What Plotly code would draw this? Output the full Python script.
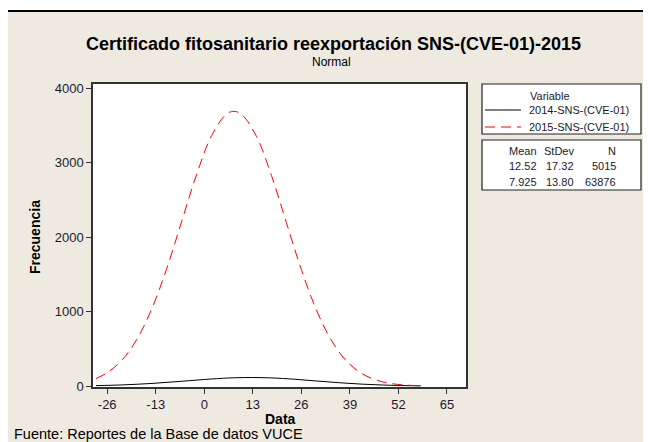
import plotly.graph_objects as go

# ---- data ----
x_2015 = [-29, -26, -22, -18, -14, -10, -6, -2, 2, 6, 8, 10, 14, 18, 22, 26, 30, 34, 38, 42, 46, 50, 54, 58]
y_2015 = [103, 180, 352, 632, 1045, 1588, 2220, 2851, 3368, 3657, 3690, 3651, 3352, 2829, 2195, 1566, 1027, 619, 343, 175, 82, 35, 14, 5]

x_2014 = [-29, -22, -14, -6, 2, 8, 13, 18, 24, 30, 36, 42, 48, 54, 58]
y_2014 = [6.5, 16, 36, 65, 96, 112, 115.5, 110, 93, 69, 46, 27, 14, 6.6, 3.5]

x_ticks = [-26, -13, 0, 13, 26, 39, 52, 65]
y_ticks = [0, 1000, 2000, 3000, 4000]

series_names = ["2014-SNS-(CVE-01)", "2015-SNS-(CVE-01)"]
stat_mean = ["12.52", "7.925"]
stat_sd = ["17.32", "13.80"]
stat_n = ["5015", "63876"]

title = "Certificado fitosanitario reexportación SNS-(CVE-01)-2015"
subtitle = "Normal"
caption = "Fuente: Reportes de la Base de datos VUCE"

# ---- layout geometry (page pixels; the page body adds an 8px offset) ----
OFF = 8
W, H = 651 - OFF, 442 - OFF
L, R, T, B = 93 - OFF, 466 - OFF, 84 - OFF, 387 - OFF


def px(p):
    return (p - OFF - L) / (R - L)


def py(p):
    return (B - (p - OFF)) / (B - T)


FONT = "Liberation Sans"
TXT = "#1a1a2e"

fig = go.Figure()
fig.add_trace(go.Scatter(x=x_2014, y=y_2014, mode="lines", name=series_names[0],
                         line=dict(color="black", width=1, shape="spline"), showlegend=False))
fig.add_trace(go.Scatter(x=x_2015, y=y_2015, mode="lines", name=series_names[1],
                         line=dict(color="#ff0000", width=1, dash="10px,6px", shape="spline"),
                         showlegend=False))

shapes = [
    dict(type="rect", xref="paper", yref="paper", x0=px(7), x1=px(720), y0=py(520), y1=py(11),
         fillcolor="#efeae0", line=dict(color="black", width=2), layer="below"),
    dict(type="rect", xref="paper", yref="paper", x0=0, x1=1, y0=0, y1=1,
         fillcolor="white", line=dict(width=0), layer="below"),
    # legend boxes
    dict(type="rect", xref="paper", yref="paper", x0=px(482), x1=px(641), y0=py(134), y1=py(84),
         fillcolor="white", line=dict(color="#222", width=1.2)),
    dict(type="rect", xref="paper", yref="paper", x0=px(482), x1=px(641), y0=py(190), y1=py(140),
         fillcolor="white", line=dict(color="#222", width=1.2)),
    dict(type="line", xref="paper", yref="paper", x0=px(485), x1=px(521), y0=py(110), y1=py(110),
         line=dict(color="black", width=1)),
    dict(type="line", xref="paper", yref="paper", x0=px(485), x1=px(521), y0=py(127), y1=py(127),
         line=dict(color="#ff0000", width=1, dash="10px,6px")),
]

ann = []
ann.append(dict(text="<b>" + title + "</b>", x=px(333), y=py(44), xref="paper", yref="paper",
                showarrow=False, font=dict(family=FONT, size=18, color="black"),
                xanchor="center", yanchor="middle"))
ann.append(dict(text=subtitle, x=px(331), y=py(62), xref="paper", yref="paper",
                showarrow=False, font=dict(family=FONT, size=12, color="black"),
                xanchor="center", yanchor="middle"))
ann.append(dict(text="<b>Frecuencia</b>", x=px(35), y=py(237), xref="paper", yref="paper",
                showarrow=False, textangle=-90, font=dict(family=FONT, size=14, color="black"),
                xanchor="center", yanchor="middle"))
ann.append(dict(text="<b>Data</b>", x=px(280), y=py(419), xref="paper", yref="paper",
                showarrow=False, font=dict(family=FONT, size=14, color="black"),
                xanchor="center", yanchor="middle"))
ann.append(dict(text=caption, x=px(12), y=py(434), xref="paper", yref="paper",
                showarrow=False, font=dict(family=FONT, size=14.5, color="black"),
                xanchor="left", yanchor="middle"))
# legend text
lf = dict(family=FONT, size=11, color=TXT)
ann.append(dict(text="Variable", x=px(528), y=py(96), xref="paper", yref="paper",
                showarrow=False, font=lf, xanchor="left", yanchor="middle"))
for i, (nm, yy) in enumerate(zip(series_names, [110, 127])):
    ann.append(dict(text=nm, x=px(527), y=py(yy), xref="paper", yref="paper",
                    showarrow=False, font=lf, xanchor="left", yanchor="middle"))
for txt, xx in zip(["Mean", "StDev", "N"], [539, 576, 618]):
    ann.append(dict(text=txt, x=px(xx), y=py(151), xref="paper", yref="paper",
                    showarrow=False, font=lf, xanchor="right", yanchor="middle"))
for i, yy in enumerate([166, 182]):
    for txt, xx in zip([stat_mean[i], stat_sd[i], stat_n[i]], [539, 576, 618]):
        ann.append(dict(text=txt, x=px(xx), y=py(yy), xref="paper", yref="paper",
                        showarrow=False, font=lf, xanchor="right", yanchor="middle"))

axis_common = dict(showgrid=False, zeroline=False, showline=True, mirror=True,
                   linecolor="#333333", linewidth=1.5, ticks="outside", ticklen=5,
                   tickcolor="#333333", tickfont=dict(family=FONT, size=13, color=TXT))

fig.update_layout(
    width=W, height=H,
    margin=dict(l=L, r=W - R, t=T, b=H - B, pad=0),
    paper_bgcolor="white", plot_bgcolor="white",
    shapes=shapes, annotations=ann, showlegend=False,
    xaxis=dict(range=[-29.8, 70.1], tickvals=x_ticks, ticktext=[str(v) for v in x_ticks], **axis_common),
    yaxis=dict(range=[-12, 4058], tickvals=y_ticks, ticktext=[str(v) for v in y_ticks], **axis_common),
)

fig.write_html("out.html")
